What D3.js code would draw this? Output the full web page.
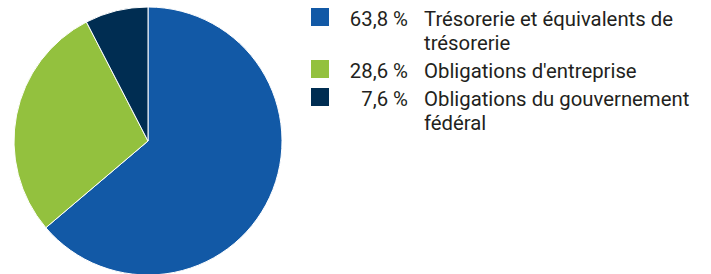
<!DOCTYPE html>
<html>
<head>
<meta charset="utf-8">
<script src="https://cdn.jsdelivr.net/npm/d3@7"></script>
<style>
  body { margin: 0; background: #fff; }
  text { font-family: Roboto, "Noto Sans", sans-serif; fill: #231f20; }
</style>
</head>
<body>
<div id="chart"></div>
<script>
// data
var categories = ["Trésorerie et équivalents de trésorerie", "Obligations d'entreprise", "Obligations du gouvernement fédéral"];
var labelLines = [["Trésorerie et équivalents de", "trésorerie"], ["Obligations d'entreprise"], ["Obligations du gouvernement", "fédéral"]];
var values = [63.8, 28.6, 7.6];
var colors = ["#1259a6", "#93c13e", "#002d52"];

var W = 711, H = 274;
var cx = 148, cy = 141, r = 134;

var svg = d3.select("#chart").append("svg")
    .attr("width", W)
    .attr("height", H);

var pie = d3.pie().sort(null).value(function(d) { return d; });
var arc = d3.arc().innerRadius(0).outerRadius(r);

var g = svg.append("g").attr("transform", "translate(" + cx + "," + cy + ")");
g.selectAll("path")
    .data(pie(values))
  .enter().append("path")
    .attr("d", arc)
    .style("fill", function(d, i) { return colors[i]; })
    .style("stroke", "#fff")
    .style("stroke-width", 1);

// legend
var fs = 20, lineH = 24, rowGap = 28;
var leg = svg.append("g");
var y = 26;
var rows = [];
labelLines.forEach(function(lines, i) {
    rows.push(y);
    y += (lines.length - 1) * lineH + rowGap;
});

// squeeze text to the narrow look of the original
var probe = leg.append("text").style("font-size", fs + "px").text("Trésorerie et équivalents de");
var squeeze = 249 / probe.node().getComputedTextLength();
probe.remove();

var item = leg.selectAll(".item")
    .data(labelLines)
  .enter().append("g")
    .attr("class", "item")
    .attr("transform", function(d, i) { return "translate(0," + rows[i] + ")"; });

item.append("rect")
    .attr("x", 311)
    .attr("y", -18)
    .attr("width", 18)
    .attr("height", 18)
    .style("fill", function(d, i) { return colors[i]; });

item.append("text")
    .attr("x", 408)
    .attr("text-anchor", "end")
    .style("font-size", fs + "px")
    .text(function(d, i) { return d3.format(".1f")(values[i]).replace(".", ",") + " %"; })
    .each(function() {
        d3.select(this).attr("textLength", this.getComputedTextLength() * squeeze).attr("lengthAdjust", "spacingAndGlyphs");
    });

item.each(function(lines) {
    var it = d3.select(this);
    lines.forEach(function(l, j) {
        var t = it.append("text")
            .attr("x", 424)
            .attr("y", j * lineH)
            .style("font-size", fs + "px")
            .text(l);
        t.attr("textLength", t.node().getComputedTextLength() * squeeze).attr("lengthAdjust", "spacingAndGlyphs");
    });
});
</script>
</body>
</html>
